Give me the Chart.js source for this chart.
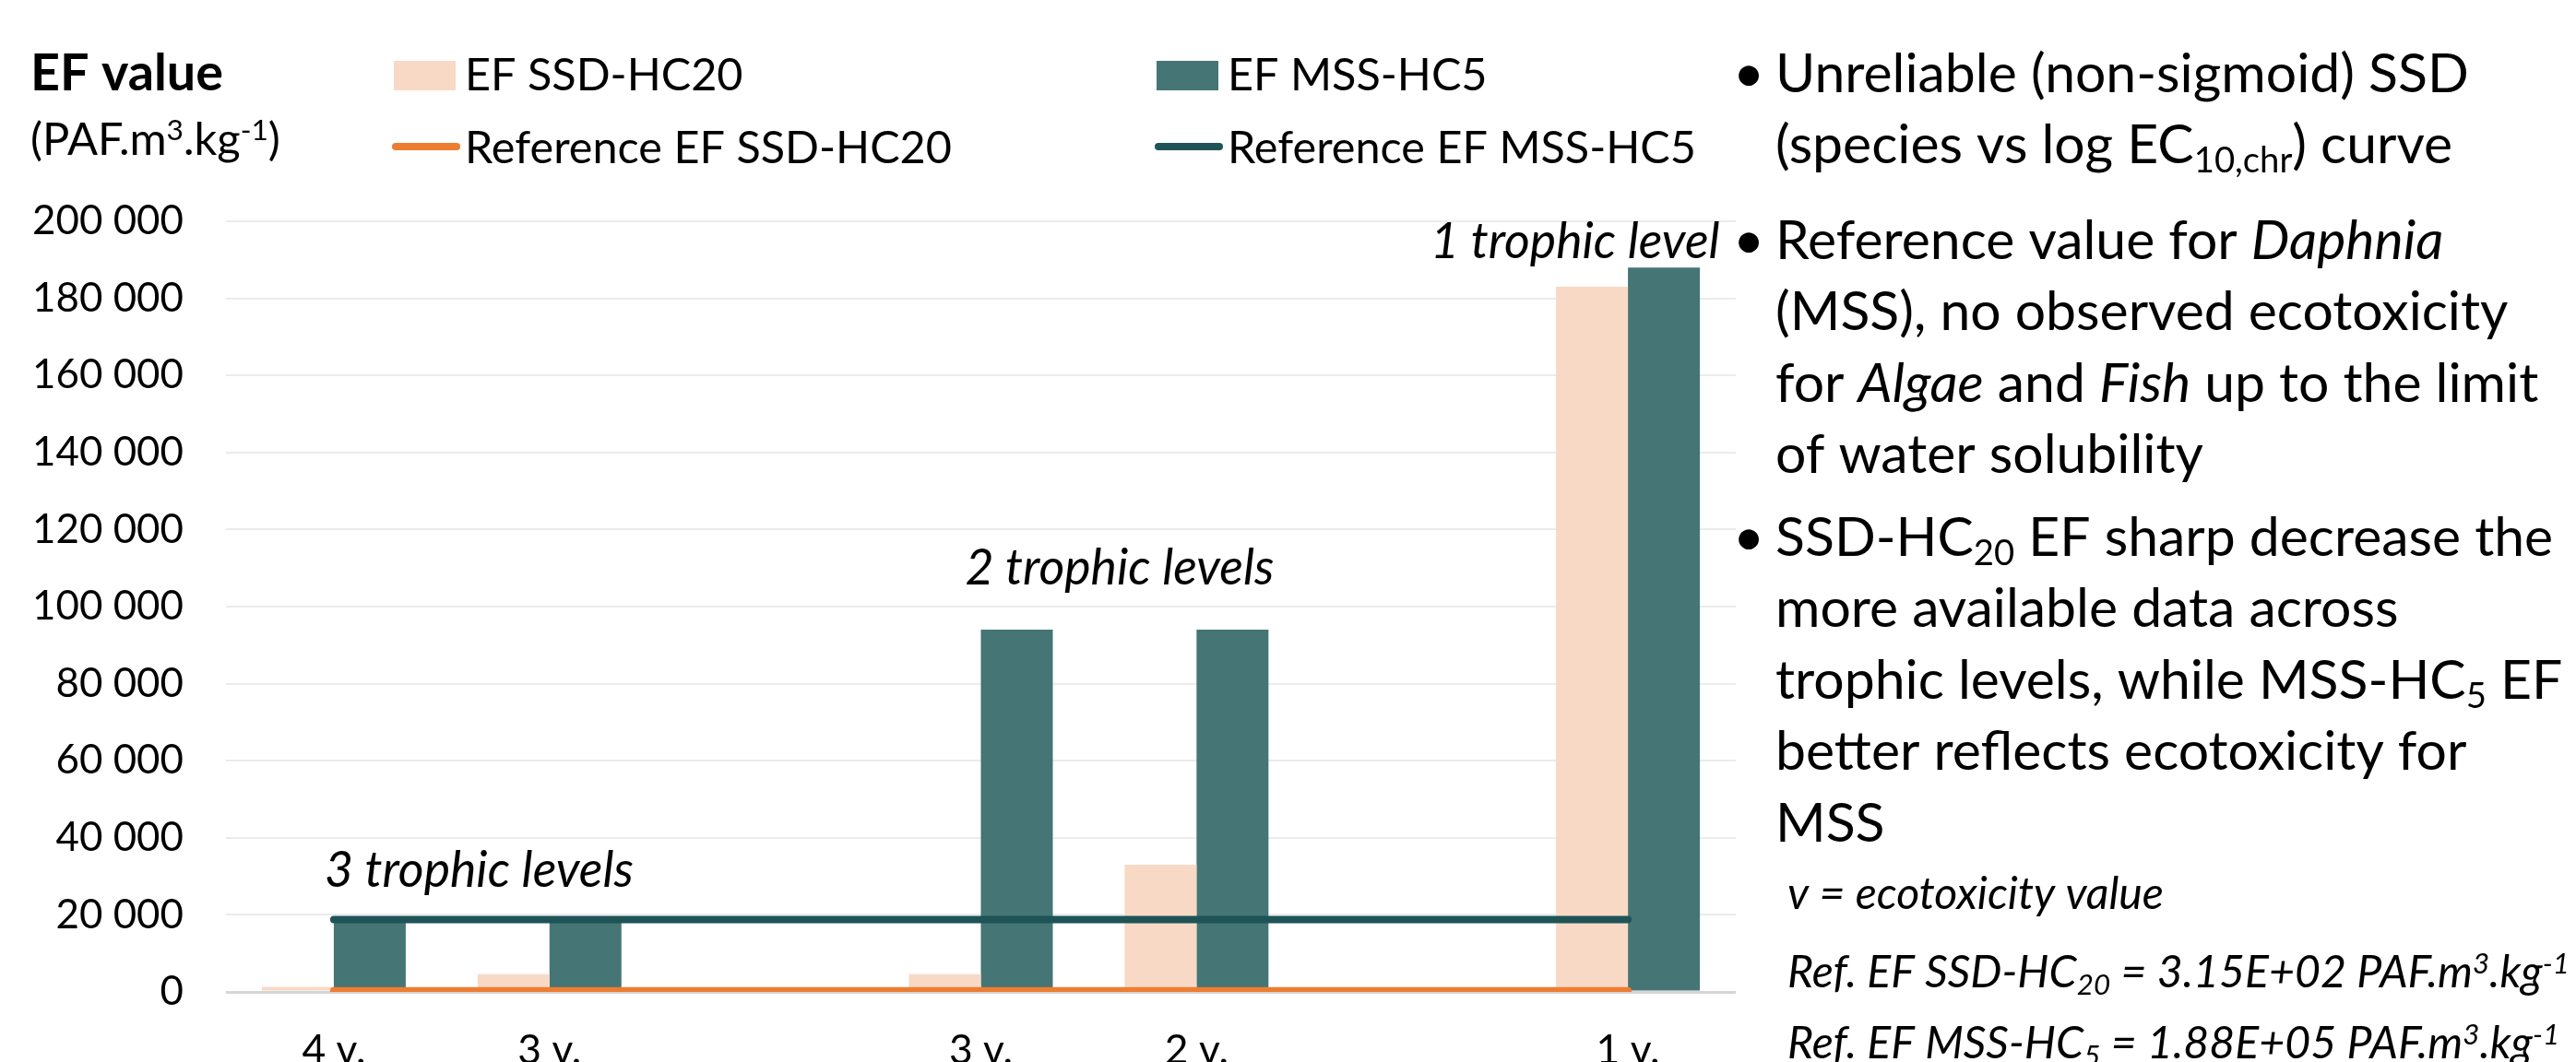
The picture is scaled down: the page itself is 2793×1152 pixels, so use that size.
<!DOCTYPE html>
<html>
<head>
<meta charset="utf-8">
<title>EF SSD-HC20 vs EF MSS-HC5</title>
<script src="https://cdn.jsdelivr.net/npm/chart.js@4.4.1/dist/chart.umd.min.js"></script>
<style>
  html, body { margin: 0; padding: 0; background: #fff; }
</style>
</head>
<body>
<canvas id="efChart" width="2793" height="1152"></canvas>
<script>
// number of ecotoxicity values per case (blank slots separate the trophic groups)
const categories = ['4 v.', '3 v.', '', '3 v.', '2 v.', '', '1 v.'];
const efSsdHc20 = [1300, 4600, null, 4600, 33000, null, 183000];
const efMssHc5 = [18800, 18800, null, 94000, 94000, null, 188000];
const refSsdHc20 = [315, 315, 315, 315, 315, 315, 315];
const refMssHc5 = [18800, 18800, 18800, 18800, 18800, 18800, 18800];
const yMax = 200000;
const yStep = 20000;

const trophicLabels = ['3 trophic levels', '2 trophic levels', '1 trophic level'];

const rightNotes = [
    { bullet: true, parts: [['Unreliable (non-sigmoid) SSD']] },
    { parts: [['(species vs log EC'], ['10,chr', 'sub'], [') curve']] },
    { bullet: true, parts: [['Reference value for '], ['Daphnia', 'i']] },
    { parts: [['(MSS), no observed ecotoxicity']] },
    { parts: [['for '], ['Algae', 'i'], [' and '], ['Fish', 'i'], [' up to the limit']] },
    { parts: [['of water solubility']] },
    { bullet: true, parts: [['SSD-HC'], ['20', 'sub'], [' EF sharp decrease the']] },
    { parts: [['more available data across']] },
    { parts: [['trophic levels, while MSS-HC'], ['5', 'sub'], [' EF']] },
    { parts: [['better reflects ecotoxicity for']] },
    { parts: [['MSS']] }
];

const footNotes = [
    [['v = ecotoxicity value']],
    [['Ref. EF SSD-HC'], ['20', 'sub'], [' = 3.15E+02 PAF.m'], ['3', 'sup'], ['.kg'], ['-1', 'sup']],
    [['Ref. EF MSS-HC'], ['5', 'sub'], [' = 1.88E+05 PAF.m'], ['3', 'sup'], ['.kg'], ['-1', 'sup']]
];

const colors = {
    ssdBar: '#F8D9C5',
    mssBar: '#457575',
    ssdLine: '#ED7D31',
    mssLine: '#1E5457'
};

// size fonts so the text takes the same width as in the original slide
const measureCtx = document.createElement('canvas').getContext('2d');
function fitFont(text, style, width) {
    measureCtx.font = style + ' 100px Lato';
    return 100 * width / measureCtx.measureText(text).width;
}
const bulletSize = fitFont('Unreliable (non-sigmoid) SSD', '', 752);
const unitSize = fitFont('Unreliable (non-sigmoid) SSD', '', 789) * 0.79;
const noteSize = fitFont('v = ecotoxicity value', 'italic', 425) * 0.96;
const legendSize = fitFont('Reference EF MSS-HC5', '', 508);
const trophicSize = fitFont('3 trophic levels', 'italic', 335);
const titleSize = fitFont('EF value', 'bold', 209);
const tickSize = fitFont('200 000', '', 164);
const xLabelSize = fitFont('4 v.', '', 69);

function formatThousands(value) {
    return String(value).replace(/\B(?=(\d{3})+(?!\d))/g, ' ');
}

function drawRich(ctx, parts, x, y, size, base) {
    let cx = x;
    for (const [txt, tag = ''] of parts) {
        const small = tag === 'sub' || tag === 'sup';
        const italic = base === 'italic' || tag === 'i';
        const fs = small ? size * 0.65 : size;
        ctx.font = (italic ? 'italic ' : '') + (base === 'bold' ? 'bold ' : '') + fs + 'px Lato';
        let dy = 0;
        if (tag === 'sub') dy = size * 0.17;
        if (tag === 'sup') dy = -size * 0.32;
        ctx.fillText(txt, cx, y + dy);
        cx += ctx.measureText(txt).width;
    }
}

const overlayText = {
    id: 'overlayText',
    afterDatasetsDraw(chart) {
        const ctx = chart.ctx;
        const xs = chart.scales.x;
        const ys = chart.scales.y;
        ctx.save();
        ctx.fillStyle = '#000';
        ctx.textBaseline = 'alphabetic';
        ctx.textAlign = 'left';
        ctx.font = 'italic ' + trophicSize + 'px Lato';
        ctx.fillText(trophicLabels[0], xs.getPixelForValue(0) - 10, ys.getPixelForValue(27300));
        ctx.fillText(trophicLabels[1], xs.getPixelForValue(3) - 17, ys.getPixelForValue(105700));
        ctx.fillText(trophicLabels[2], xs.getPixelForValue(6) - 214, ys.getPixelForValue(190400));
        ctx.restore();
    },
    afterDraw(chart) {
        const ctx = chart.ctx;
        const ds = chart.data.datasets;
        ctx.save();
        ctx.fillStyle = '#000';
        ctx.textBaseline = 'alphabetic';
        ctx.textAlign = 'left';

        // axis title
        drawRich(ctx, [['EF value']], 33, 98, titleSize, 'bold');
        drawRich(ctx, [['(PAF.m'], ['3', 'sup'], ['.kg'], ['-1', 'sup'], [')']], 33, 168, unitSize, '');

        // legend, 2 x 2
        const legendItems = [
            { ds: ds[0], x: 427, y: 98 },
            { ds: ds[1], x: 1254, y: 98 },
            { ds: ds[2], x: 427, y: 177 },
            { ds: ds[3], x: 1254, y: 177 }
        ];
        legendItems.forEach(item => {
            if (item.ds.type === 'line') {
                ctx.strokeStyle = item.ds.borderColor;
                ctx.lineWidth = 8;
                ctx.lineCap = 'round';
                ctx.beginPath();
                ctx.moveTo(item.x + 2, item.y - 18);
                ctx.lineTo(item.x + 68, item.y - 18);
                ctx.stroke();
            } else {
                ctx.fillStyle = item.ds.backgroundColor;
                ctx.fillRect(item.x, item.y - 32, 67, 32);
            }
            ctx.fillStyle = '#000';
            ctx.font = legendSize + 'px Lato';
            ctx.fillText(item.ds.label, item.x + 77, item.y);
        });

        // bullet text on the right
        const noteY = [100, 177, 281, 358, 436, 513, 603, 680, 758, 835, 913];
        rightNotes.forEach((line, i) => {
            if (line.bullet) {
                ctx.font = bulletSize + 'px Lato';
                ctx.textAlign = 'center';
                ctx.fillText('\u2022', 1896, noteY[i]);
                ctx.textAlign = 'left';
            }
            drawRich(ctx, line.parts, 1925, noteY[i], bulletSize, '');
        });

        const footY = [986, 1071, 1148];
        footNotes.forEach((parts, i) => {
            drawRich(ctx, parts, 1938, footY[i], noteSize, 'italic');
        });
        ctx.restore();
    }
};

const ctx = document.getElementById('efChart').getContext('2d');

const chart = new Chart(ctx, {
    type: 'bar',
    data: {
        labels: categories,
        datasets: [
            {
                label: 'EF SSD-HC20',
                data: efSsdHc20,
                backgroundColor: colors.ssdBar,
                borderWidth: 0,
                order: 1
            },
            {
                label: 'EF MSS-HC5',
                data: efMssHc5,
                backgroundColor: colors.mssBar,
                borderWidth: 0,
                order: 1
            },
            {
                type: 'line',
                label: 'Reference EF SSD-HC20',
                data: refSsdHc20,
                borderColor: colors.ssdLine,
                backgroundColor: colors.ssdLine,
                borderWidth: 8,
                borderCapStyle: 'round',
                pointRadius: 0,
                fill: false,
                order: 0
            },
            {
                type: 'line',
                label: 'Reference EF MSS-HC5',
                data: refMssHc5,
                borderColor: colors.mssLine,
                backgroundColor: colors.mssLine,
                borderWidth: 8,
                borderCapStyle: 'round',
                pointRadius: 0,
                fill: false,
                order: 0
            }
        ]
    },
    options: {
        responsive: false,
        animation: false,
        categoryPercentage: 0.667,
        barPercentage: 1.0,
        layout: {
            padding: { top: 240, right: 911, bottom: 0, left: 0 }
        },
        plugins: {
            legend: { display: false },
            tooltip: { enabled: false }
        },
        scales: {
            x: {
                grid: { display: false, drawTicks: false },
                border: { display: false },
                ticks: {
                    color: '#000',
                    font: { family: 'Lato', size: xLabelSize },
                    padding: 37,
                    autoSkip: false,
                    maxRotation: 0
                },
                afterFit(scale) {
                    scale.height = 76;
                }
            },
            y: {
                min: 0,
                max: yMax,
                border: { display: false },
                grid: {
                    drawTicks: false,
                    color: c => (c.tick && c.tick.value === 0 ? '#d6d6d6' : '#ebebeb'),
                    lineWidth: c => (c.tick && c.tick.value === 0 ? 3 : 2)
                },
                ticks: {
                    stepSize: yStep,
                    color: '#000',
                    padding: 46,
                    font: { family: 'Lato', size: tickSize },
                    callback: value => formatThousands(value)
                },
                afterFit(scale) {
                    scale.width = 245;
                }
            }
        }
    },
    plugins: [overlayText]
});
</script>
</body>
</html>
